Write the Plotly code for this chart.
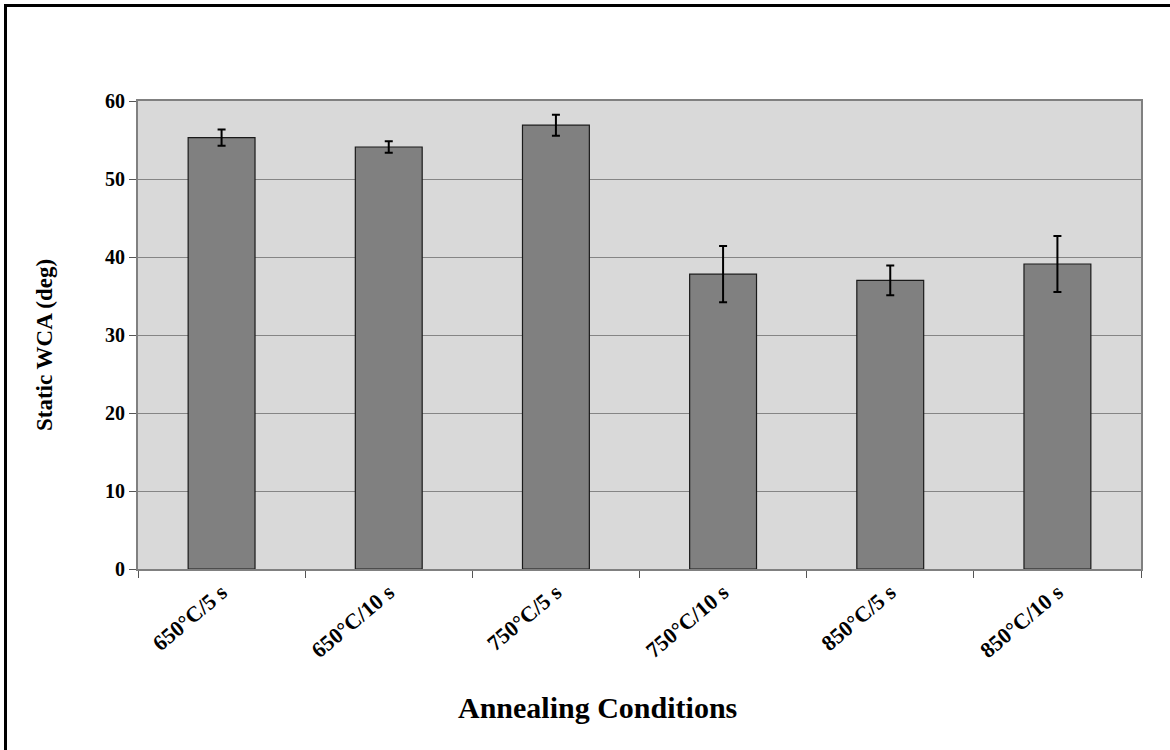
import plotly.graph_objects as go

categories = ["650°C/5 s", "650°C/10 s", "750°C/5 s", "750°C/10 s", "850°C/5 s", "850°C/10 s"]
wca_values = [55.3, 54.1, 56.9, 37.8, 37.0, 39.1]
wca_errors = [1.05, 0.75, 1.35, 3.6, 1.9, 3.6]
y_ticks = [0, 10, 20, 30, 40, 50, 60]

FONT = "Liberation Serif"

fig = go.Figure()
fig.add_trace(go.Bar(
    x=categories,
    y=wca_values,
    marker=dict(color="#808080", line=dict(color="#1a1a1a", width=1.2)),
    error_y=dict(type="data", array=wca_errors, visible=True,
                 color="#000000", thickness=2, width=4),
    width=0.4,
))

W, H = 1170, 750
# target plot area in page pixels: x 138..1141, y 101..569
L, T = 138, 101
R = W - 1141
B = H - 569
pw, ph = W - L - R, H - T - B

def px_x(p):
    return (p - L) / pw

def px_y(p):
    return (569 - p) / ph

fig.update_layout(
    width=W, height=H,
    margin=dict(l=L, r=R, t=T, b=B, pad=0),
    paper_bgcolor="white",
    plot_bgcolor="#d9d9d9",
    showlegend=False,
    font=dict(family=FONT, color="black"),
    xaxis=dict(
        type="category",
        tickangle=-40,
        tickfont=dict(family=FONT, size=22, color="black", weight="bold"),
        showgrid=False,
        showline=True, linecolor="#808080", linewidth=2, mirror=True,
        ticks="outside", tickson="boundaries", ticklen=7, tickcolor="#555555", tickwidth=1,
        zeroline=False,
    ),
    yaxis=dict(
        range=[0, 60],
        tickvals=y_ticks,
        tickfont=dict(family=FONT, size=20, color="black", weight="bold"),
        showgrid=True, gridcolor="#858585", gridwidth=1.3,
        showline=True, linecolor="#808080", linewidth=2, mirror=True,
        ticks="outside", ticklen=7, tickcolor="#555555", tickwidth=1,
        zeroline=False,
    ),
    annotations=[
        dict(text="<b>Annealing Conditions</b>", xref="paper", yref="paper",
             x=px_x(597), y=px_y(707), showarrow=False,
             xanchor="center", yanchor="middle",
             font=dict(family=FONT, size=30, color="black")),
        dict(text="<b>Static WCA (deg)</b>", xref="paper", yref="paper",
             x=px_x(44), y=px_y(345), showarrow=False, textangle=-90,
             xanchor="center", yanchor="middle",
             font=dict(family=FONT, size=23, color="black")),
    ],
    shapes=[
        dict(type="line", xref="paper", yref="paper",
             x0=px_x(4), x1=px_x(1300), y0=px_y(5.5), y1=px_y(5.5),
             line=dict(color="black", width=3), layer="above"),
        dict(type="line", xref="paper", yref="paper",
             x0=px_x(5.5), x1=px_x(5.5), y0=px_y(900), y1=px_y(4),
             line=dict(color="black", width=3), layer="above"),
    ],
)

fig.write_html("out.html",
               config={"displayModeBar": False},
               post_script="document.body.style.margin='0';document.body.style.overflow='hidden';")
